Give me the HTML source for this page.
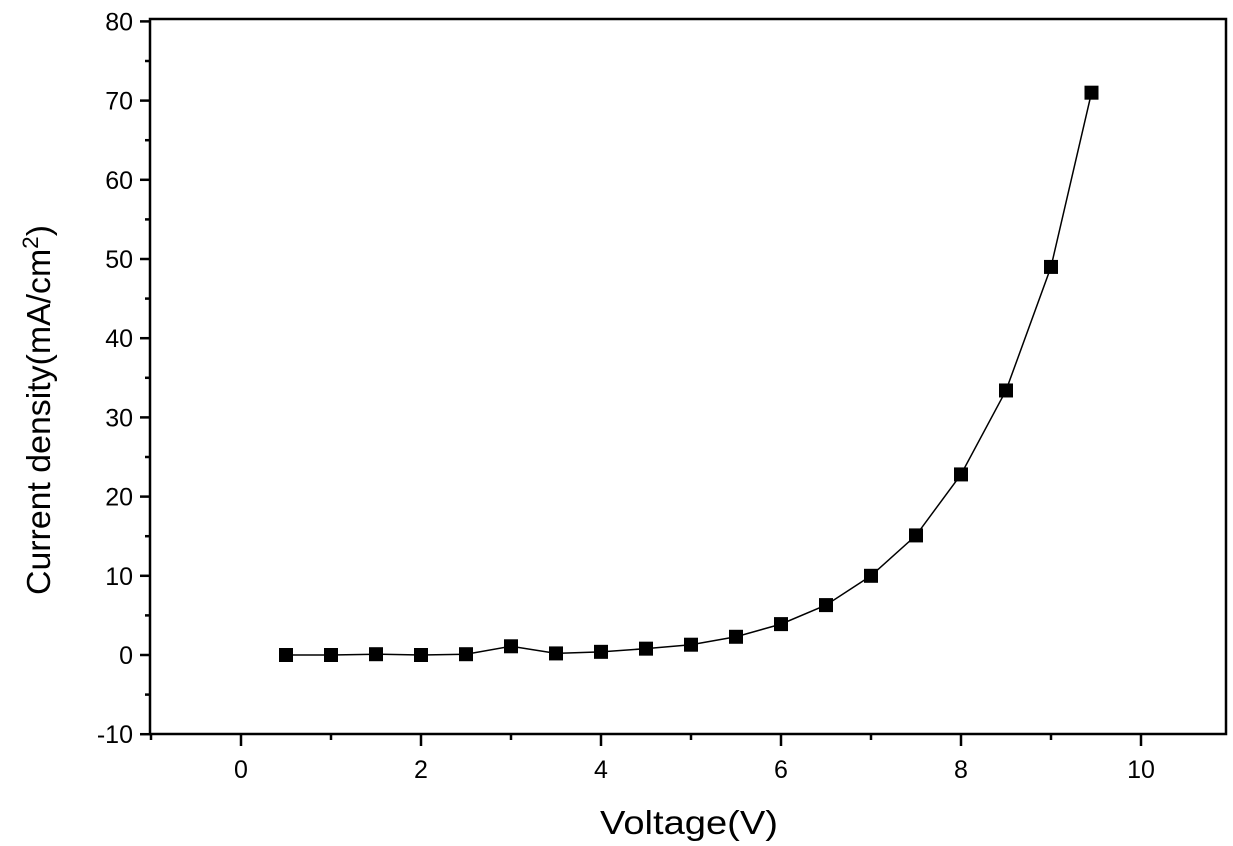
<!DOCTYPE html><html><head><style>body{margin:0;background:#fff}</style></head><body>
<svg width="1233" height="841" xmlns="http://www.w3.org/2000/svg" font-family="Liberation Sans, sans-serif">
<rect x="0" y="0" width="1233" height="841" fill="#fff"/>
<rect x="150" y="19" width="1076" height="715" fill="none" stroke="#000" stroke-width="2.5"/>
<g stroke="#000" stroke-width="2.5" id="t"></g>
<g font-size="25" fill="#000" id="l"></g>
<polyline id="c" fill="none" stroke="#000" stroke-width="1.5"/>
<g id="m"></g>
<text x="600" y="834" font-size="33" textLength="178" lengthAdjust="spacingAndGlyphs">Voltage(V)</text>
<text transform="translate(50,595) rotate(-90)" font-size="33" textLength="370" lengthAdjust="spacingAndGlyphs">Current density(mA/cm<tspan dy="-12" font-size="22">2</tspan><tspan dy="12">)</tspan></text>
<script>
var ns="http://www.w3.org/2000/svg";function X(v){return 241+90*v}function Y(v){return 655-7.92*v}
var t=document.getElementById('t'),l=document.getElementById('l');
function ln(a,b,c,d){var e=document.createElementNS(ns,'line');e.setAttribute('x1',a);e.setAttribute('y1',b);e.setAttribute('x2',c);e.setAttribute('y2',d);t.appendChild(e)}
function tx(x,y,s,a){var e=document.createElementNS(ns,'text');e.setAttribute('x',x);e.setAttribute('y',y);e.setAttribute('text-anchor',a);e.textContent=s;l.appendChild(e)}
for(var v=-10;v<=80;v+=5){var y=Y(v);if(v%10==0){ln(140,y,150,y);tx(133,y+9,v,'end')}else ln(145,y,150,y)}
for(var v=-1;v<=10;v++){var x=X(v);if(v%2==0){ln(x,734,x,746);tx(x,778,v,'middle')}else ln(x,734,x,740)}
var d=[[0.5,0],[1,0],[1.5,0.1],[2,0],[2.5,0.1],[3,1.1],[3.5,0.2],[4,0.4],[4.5,0.8],[5,1.3],[5.5,2.3],[6,3.9],[6.5,6.3],[7,10],[7.5,15.1],[8,22.8],[8.5,33.4],[9,49],[9.45,71]];
document.getElementById('c').setAttribute('points',d.map(p=>X(p[0])+','+Y(p[1])).join(' '));
var m=document.getElementById('m');d.forEach(p=>{var r=document.createElementNS(ns,'rect');r.setAttribute('x',X(p[0])-7);r.setAttribute('y',Y(p[1])-7);r.setAttribute('width',14);r.setAttribute('height',14);r.setAttribute('fill','#000');m.appendChild(r)});
</script>
</svg></body></html>
